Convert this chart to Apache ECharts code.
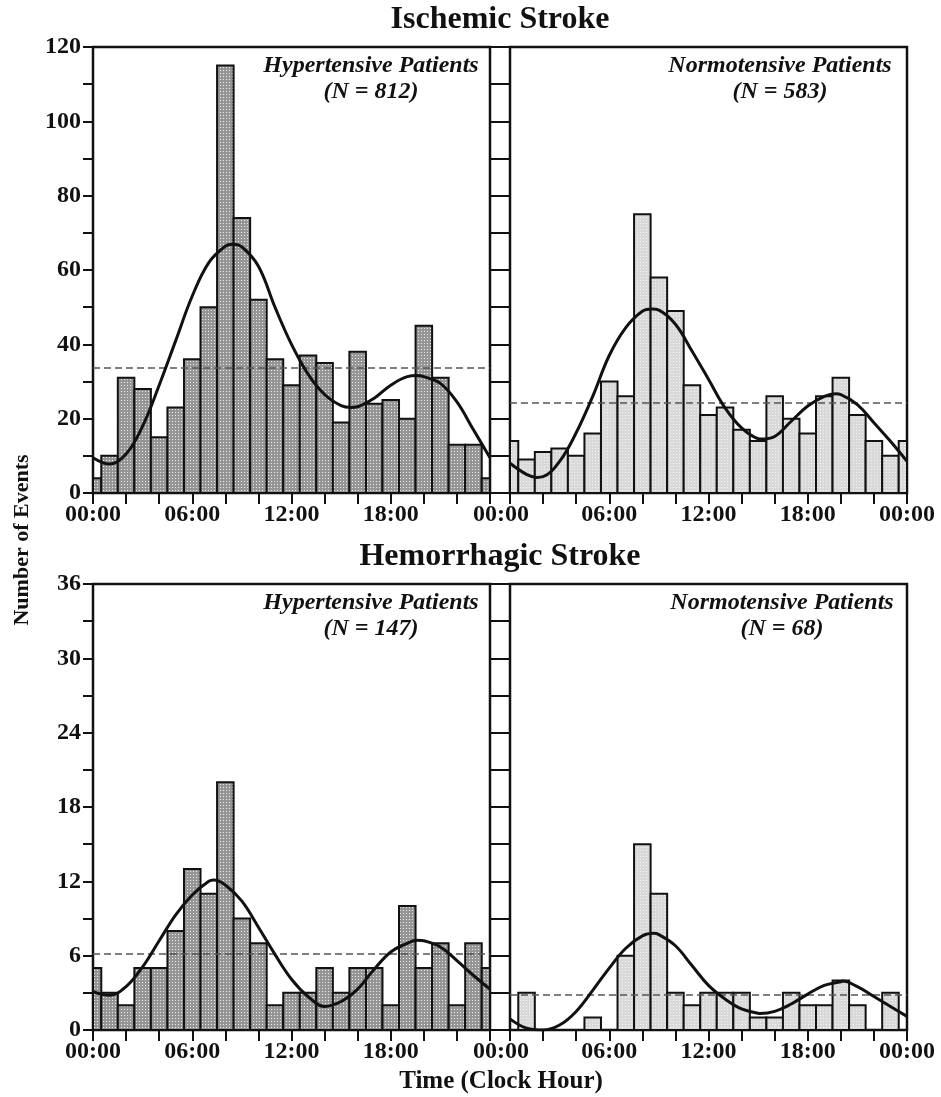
<!DOCTYPE html>
<html>
<head>
<meta charset="utf-8">
<script src="https://cdn.jsdelivr.net/npm/echarts@6/dist/echarts.min.js"></script>
<style>
  html, body { margin: 0; padding: 0; background: #fff; }
  #chart { width: 941px; height: 1097px; }
</style>
</head>
<body>
<div id="chart"></div>
<script>
// ---------------- DATA ----------------
const hours = [0,1,2,3,4,5,6,7,8,9,10,11,12,13,14,15,16,17,18,19,20,21,22,23];
const fitHours = [0,1,2,3,4,5,6,7,8,9,10,11,12,13,14,15,16,17,18,19,20,21,22,23,24];

const panelTitles = ['Ischemic Stroke', 'Hemorrhagic Stroke'];
const groupNames = ['Hypertensive Patients', 'Normotensive Patients'];
const groupN = [812, 583, 147, 68];
const timeTickLabels = ['00:00', '06:00', '12:00', '18:00', '00:00'];
const xAxisTitle = 'Time (Clock Hour)';
const yAxisTitle = 'Number of Events';

// events per clock hour (hour 0 .. 23)
const ischemicHyper = [4,10,31,28,15,23,36,50,115,74,52,36,29,37,35,19,38,24,25,20,45,31,13,13];
const ischemicNormo = [14,9,11,12,10,16,30,26,75,58,49,29,21,23,17,14,26,20,16,26,31,21,14,10];
const hemorrhagicHyper = [5,3,2,5,5,8,13,11,20,9,7,2,3,3,5,3,5,5,2,10,5,7,2,7];
const hemorrhagicNormo = [0,3,0,0,0,1,0,6,15,11,3,2,3,3,3,1,1,3,2,2,4,2,0,3];

// fitted curves read at each hour 0 .. 24
const ischemicHyperFit = [9.5,7.8,10.5,18,29,41,53,62,66.4,66.2,61,50,40,32,26.5,23.5,23.2,25.5,29,31.3,31.3,29.5,24.5,17,9.5];
const ischemicNormoFit = [8,5,4.4,8.5,16.2,26,37,44.5,48.9,49.2,45.4,38.2,30.6,22.9,17.5,14.6,15.2,19.3,23.4,26,26.5,23.8,18.9,13.9,8.5];
const hemorrhagicHyperFit = [3.1,2.8,3.5,5.1,7.2,9.3,10.9,12,11.7,10.4,8.3,6.1,4.1,2.7,1.9,2.3,3.3,4.9,6.3,7,7.2,6.7,5.6,4.4,3.3];
const hemorrhagicNormoFit = [0.9,0.15,0,0.4,1.5,3.2,5,6.6,7.6,7.7,6.8,5.2,3.6,2.5,1.7,1.35,1.5,2.1,2.9,3.6,3.9,3.5,2.7,1.9,1.1];

// turning points of the fitted curves read between the hours: [hour, value]
const ischemicHyperTurns = [[8.45,66.9],[15.6,23.0],[19.6,31.6]];
const ischemicNormoTurns = [[1.6,4.2],[8.6,49.5],[15.2,14.5],[19.7,26.7]];
const hemorrhagicHyperTurns = [[7.3,12.1],[19.6,7.25]];
const hemorrhagicNormoTurns = [[8.7,7.8],[15.1,1.33],[20.1,3.95]];

// ---------------- CHART ----------------
const FONT = "'Liberation Serif', 'Times New Roman', serif";

function dotPattern(bg, dot) {
  const c = document.createElement('canvas');
  c.width = 3; c.height = 3;
  const g = c.getContext('2d');
  g.fillStyle = bg; g.fillRect(0, 0, 3, 3);
  g.fillStyle = dot; g.fillRect(1, 1, 1, 1);
  return { image: c, repeat: 'repeat' };
}
const DARK = dotPattern('#959595', '#eeeeee');
const LIGHT = dotPattern('#d9d9d9', '#f3f3f3');

const panels = [
  { counts: ischemicHyper, fit: ischemicHyperFit, turns: ischemicHyperTurns, n: groupN[0], name: groupNames[0], fill: DARK, left: 93, top: 47, max: 120, step: 20, side: 'L', cx: 371 },
  { counts: ischemicNormo, fit: ischemicNormoFit, turns: ischemicNormoTurns, n: groupN[1], name: groupNames[1], fill: LIGHT, left: 510, top: 47, max: 120, step: 20, side: 'R', cx: 780 },
  { counts: hemorrhagicHyper, fit: hemorrhagicHyperFit, turns: hemorrhagicHyperTurns, n: groupN[2], name: groupNames[0], fill: DARK, left: 93, top: 584, max: 36, step: 6, side: 'L', cx: 371 },
  { counts: hemorrhagicNormo, fit: hemorrhagicNormoFit, turns: hemorrhagicNormoTurns, n: groupN[3], name: groupNames[1], fill: LIGHT, left: 510, top: 584, max: 36, step: 6, side: 'R', cx: 782 }
];
const PW = 397, PH = 446;

const grid = [], xAxis = [], yAxis = [], series = [], graphic = [];

function barRenderer(fill) {
  return function (params, api) {
    const h = api.value(0), v = api.value(1);
    if (!v) return null;
    const p0 = api.coord([h - 0.5, v]);
    const p1 = api.coord([h + 0.5, 0]);
    const cs = params.coordSys;
    const r = echarts.graphic.clipRectByRect(
      { x: p0[0], y: p0[1], width: p1[0] - p0[0], height: p1[1] - p0[1] },
      { x: cs.x, y: cs.y, width: cs.width, height: cs.height });
    if (!r) return null;
    return { type: 'rect', shape: r, style: { fill: fill, stroke: '#111', lineWidth: 2 } };
  };
}

panels.forEach((p, i) => {
  grid.push({ left: p.left, top: p.top, width: PW, height: PH, show: true,
              borderColor: '#111', borderWidth: 2.5, backgroundColor: 'transparent' });

  xAxis.push({
    gridIndex: i, type: 'value', min: 0, max: 24, interval: 2,
    axisLine: { show: false },
    axisTick: { show: true, length: 11, lineStyle: { color: '#111', width: 2 } },
    splitLine: { show: false },
    axisLabel: {
      margin: 10, color: '#111', fontFamily: FONT, fontWeight: 'bold', fontSize: 24,
      formatter: function (val) {
        if (val % 6 !== 0) return '';
        if (p.side === 'L' && val === 24) return '';
        const t = timeTickLabels[val / 6];
        if (p.side === 'R' && val === 0) return '{s|' + t + '}';
        return t;
      },
      rich: { s: { fontFamily: FONT, fontWeight: 'bold', fontSize: 24, color: '#111', padding: [0, 18, 0, 0] } }
    }
  });

  const yIdx = yAxis.length;
  yAxis.push({
    gridIndex: i, type: 'value', min: 0, max: p.max, interval: p.step, position: 'left',
    axisLine: { show: false },
    axisTick: { show: true, length: p.side === 'L' ? 10 : 12, lineStyle: { color: '#111', width: 2 } },
    minorTick: { show: true, splitNumber: 2, length: p.side === 'L' ? 10 : 12, lineStyle: { color: '#111', width: 2 } },
    splitLine: { show: false },
    axisLabel: { show: p.side === 'L', margin: 12, color: '#111', fontFamily: FONT, fontWeight: 'bold', fontSize: 24 }
  });
  if (p.side === 'L') {
    yAxis.push({
      gridIndex: i, type: 'value', min: 0, max: p.max, interval: p.step, position: 'right',
      axisLine: { show: false },
      axisTick: { show: true, length: 8, lineStyle: { color: '#111', width: 2 } },
      minorTick: { show: true, splitNumber: 2, length: 8, lineStyle: { color: '#111', width: 2 } },
      splitLine: { show: false },
      axisLabel: { show: false }
    });
  }

  // bars (hour 0 bin wraps around both edges)
  const barData = hours.map((h, k) => [h, p.counts[k]]);
  barData.push([24, p.counts[0]]);
  series.push({
    type: 'custom', xAxisIndex: i, yAxisIndex: yIdx, z: 2,
    renderItem: barRenderer(p.fill), clip: true,
    data: barData, silent: true
  });

  // fitted curve (hourly readings plus turning points) + mean line
  const fitData = fitHours.map((h, k) => [h, p.fit[k]])
    .concat(p.turns.map(t => [t[0], t[1]]))
    .sort((a, b) => a[0] - b[0]);
  series.push({
    type: 'line', xAxisIndex: i, yAxisIndex: yIdx, z: 5,
    data: fitData,
    smooth: 0.4, showSymbol: false, symbol: 'none', silent: true, clip: true,
    lineStyle: { color: '#111', width: 3 },
    markLine: {
      silent: true, symbol: 'none', label: { show: false },
      lineStyle: { type: [7, 4], color: '#555', width: 1.6 },
      data: [{ yAxis: p.n / 24 }]
    }
  });

  // annotation
  graphic.push({
    type: 'text', x: p.cx, y: p.top + 32, z: 10,
    style: {
      text: p.name + '\n(N = ' + p.n + ')',
      align: 'center', verticalAlign: 'middle', lineHeight: 26,
      fontFamily: FONT, fontStyle: 'italic', fontWeight: 'bold', fontSize: 24, fill: '#111'
    }
  });
});

graphic.push(
  { type: 'text', x: 500, y: 20, style: { text: panelTitles[0], align: 'center', verticalAlign: 'middle',
    fontFamily: FONT, fontWeight: 'bold', fontSize: 32, fill: '#111' } },
  { type: 'text', x: 500, y: 557, style: { text: panelTitles[1], align: 'center', verticalAlign: 'middle',
    fontFamily: FONT, fontWeight: 'bold', fontSize: 32, fill: '#111' } },
  { type: 'text', x: 501, y: 1082, style: { text: xAxisTitle, align: 'center', verticalAlign: 'middle',
    fontFamily: FONT, fontWeight: 'bold', fontSize: 25, fill: '#111' } },
  { type: 'text', x: 22, y: 540, rotation: Math.PI / 2, style: { text: yAxisTitle, align: 'center', verticalAlign: 'middle',
    fontFamily: FONT, fontWeight: 'bold', fontSize: 22, fill: '#111' } }
);

const chart = echarts.init(document.getElementById('chart'), null, { renderer: 'canvas' });
chart.setOption({
  backgroundColor: '#fff',
  animation: false,
  grid: grid, xAxis: xAxis, yAxis: yAxis, series: series, graphic: graphic
});
</script>
</body>
</html>
